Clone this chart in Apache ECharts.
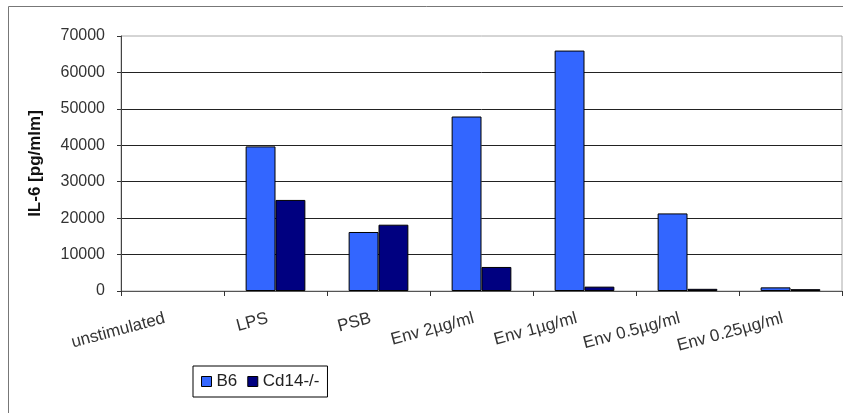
<!DOCTYPE html>
<html>
<head>
<meta charset="utf-8">
<script src="https://cdn.jsdelivr.net/npm/echarts@6/dist/echarts.min.js"></script>
<style>
html,body{margin:0;padding:0;background:#fff;}
#chart{width:843px;height:413px;}
</style>
</head>
<body>
<div id="chart"></div>
<script>
var categories = ['unstimulated', 'LPS', 'PSB', 'Env 2\u00b5g/ml', 'Env 1\u00b5g/ml', 'Env 0.5\u00b5g/ml', 'Env 0.25\u00b5g/ml'];
var b6Values = [0, 39700, 16200, 47900, 66000, 21300, 1000];
var cd14Values = [0, 25000, 18200, 6600, 1200, 600, 500];
var yTicks = [0, 10000, 20000, 30000, 40000, 50000, 60000, 70000];

function toData(arr) {
  return arr.map(function (v) {
    return v === 0 ? {value: v, itemStyle: {borderWidth: 0}} : v;
  });
}

var chart = echarts.init(document.getElementById('chart'), null, {renderer: 'canvas'});
var font = 'Liberation Sans, Arial, sans-serif';
chart.setOption({
  animation: false,
  backgroundColor: '#fff',
  textStyle: {fontFamily: font},
  graphic: [{
    type: 'rect', z: -10, silent: true,
    shape: {x: 8.5, y: 6.5, width: 900, height: 600},
    style: {fill: 'none', stroke: '#777', lineWidth: 1}
  }],
  grid: {left: 121, right: 1, top: 36, bottom: 122, show: true, borderColor: '#aaa', borderWidth: 1, backgroundColor: 'transparent'},
  legend: {
    left: 193, top: 366,
    orient: 'horizontal',
    borderColor: '#000', borderWidth: 1,
    padding: [7, 8, 7, 8],
    itemWidth: 10, itemHeight: 10, itemGap: 10,
    icon: 'rect',
    textStyle: {fontSize: 17, color: '#222', fontFamily: font},
    data: [
      {name: 'B6', itemStyle: {borderColor: '#000', borderWidth: 1}},
      {name: 'Cd14-/-', itemStyle: {borderColor: '#000', borderWidth: 1}}
    ]
  },
  xAxis: {
    type: 'category',
    data: categories,
    axisLine: {lineStyle: {color: '#555', width: 1}},
    axisTick: {show: true, length: 5, lineStyle: {color: '#333'}},
    axisLabel: {rotate: 15, fontSize: 17, color: '#333', margin: 25, padding: [0, 8, 0, 0], interval: 0, fontFamily: font}
  },
  yAxis: {
    type: 'value',
    min: 0, max: 70000, interval: 10000,
    name: 'IL-6 [pg/mlm]',
    nameLocation: 'middle',
    nameGap: 77,
    nameTextStyle: {fontSize: 17, fontWeight: 'bold', color: '#111', fontFamily: font},
    axisLine: {show: true, lineStyle: {color: '#444', width: 1}},
    axisTick: {show: true, length: 4, lineStyle: {color: '#333'}},
    axisLabel: {fontSize: 16, color: '#333', margin: 16, fontFamily: font,
      formatter: function (v) { return yTicks.indexOf(v) >= 0 ? String(v) : ''; }},
    splitLine: {show: true, showMaxLine: false, lineStyle: {color: '#222', width: 1}}
  },
  series: [
    {name: 'B6', type: 'bar', data: toData(b6Values), barGap: '0%', barCategoryGap: '42%',
     itemStyle: {color: '#3366FF', borderColor: '#000', borderWidth: 1}},
    {name: 'Cd14-/-', type: 'bar', data: toData(cd14Values), barGap: '0%', barCategoryGap: '42%',
     itemStyle: {color: '#000080', borderColor: '#000', borderWidth: 1}}
  ]
});
</script>
</body>
</html>
